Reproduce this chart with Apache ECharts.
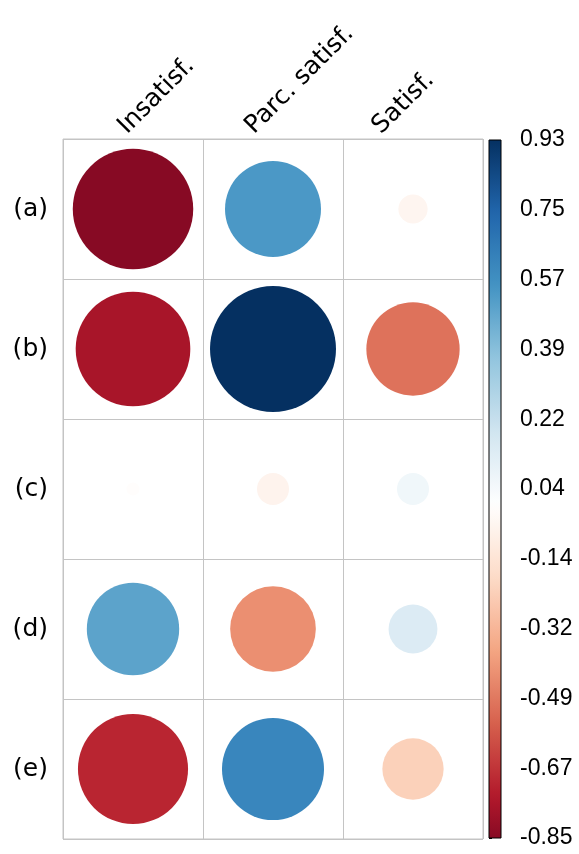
<!DOCTYPE html>
<html>
<head>
<meta charset="utf-8">
<script src="https://cdn.jsdelivr.net/npm/echarts@6/dist/echarts.min.js"></script>
<style>
  html, body { margin: 0; padding: 0; background: #ffffff; }
  #chart { width: 579px; height: 854px; }
</style>
</head>
<body>
<div id="chart"></div>
<script>
// Column and row names of the matrix
const columns = ['Insatisf.', 'Parc. satisf.', 'Satisf.'];
const rows = ['(a)', '(b)', '(c)', '(d)', '(e)'];

// Matrix values, one array per row
const rowA = [-0.85, 0.54, -0.05];
const rowB = [-0.77, 0.93, -0.51];
const rowC = [-0.01, -0.06, 0.06];
const rowD = [0.50, -0.43, 0.14];
const rowE = [-0.71, 0.61, -0.22];

// Colour-bar tick labels, bottom to top
const scaleTicks = ['-0.85', '-0.67', '-0.49', '-0.32', '-0.14', '0.04', '0.22', '0.39', '0.57', '0.75', '0.93'];

// Diverging red-white-blue palette
const palette = ['#67001F', '#B2182B', '#D6604D', '#F4A582', '#FDDBC7', '#FFFFFF',
                 '#D1E5F0', '#92C5DE', '#4393C3', '#2166AC', '#053061'];

const matrix = [rowA, rowB, rowC, rowD, rowE];
const cells = [];
matrix.forEach((vals, r) => vals.forEach((v, c) => cells.push([c, r, v])));

const allVals = matrix.flat();
const maxAbs = Math.max(...allVals.map(Math.abs));
const minVal = Math.min(...allVals);
const maxVal = Math.max(...allVals);

// Interpolate the palette on [-1, 1]
function hexToRgb(h) {
  return [parseInt(h.slice(1, 3), 16), parseInt(h.slice(3, 5), 16), parseInt(h.slice(5, 7), 16)];
}
function paletteColor(t) {
  t = Math.max(-1, Math.min(1, t));
  const pos = (t + 1) / 2 * (palette.length - 1);
  const i = Math.min(palette.length - 2, Math.floor(pos));
  const f = pos - i;
  const a = hexToRgb(palette[i]), b = hexToRgb(palette[i + 1]);
  const c = a.map((x, k) => Math.round(x + (b[k] - x) * f));
  return 'rgb(' + c.join(',') + ')';
}

// Gradient for the colour bar, top = max, bottom = min
const gradStops = [];
const N = 60;
for (let k = 0; k <= N; k++) {
  const v = maxVal - (maxVal - minVal) * k / N;
  gradStops.push({ offset: k / N, color: paletteColor(v / maxAbs) });
}

const FULL_DIAM = 126; // diameter of a circle at |value| == maxAbs
const gridColor = '#c4c4c4';

const chart = echarts.init(document.getElementById('chart'));
chart.setOption({
  backgroundColor: '#ffffff',
  animation: false,
  grid: [
    { left: 63, top: 139, width: 420, height: 700, show: true, borderColor: gridColor, borderWidth: 1 },
    { left: 59, top: 139, width: 381, height: 700 },
    { left: 489, top: 140, width: 12, height: 698 }
  ],
  xAxis: [
    {
      gridIndex: 0, type: 'category', data: columns, position: 'top',
      axisLine: { show: false }, axisTick: { show: false }, axisLabel: { show: false },
      splitLine: { show: true, lineStyle: { color: gridColor, width: 1 } }
    },
    {
      gridIndex: 1, type: 'category', data: columns, position: 'top',
      axisLine: { show: false }, axisTick: { show: false }, splitLine: { show: false },
      axisLabel: {
        rotate: 45, margin: 9, color: '#000000', fontSize: 25,
        fontFamily: 'DejaVu Sans', interval: 0
      }
    },
    { gridIndex: 2, type: 'value', min: 0, max: 1, show: false }
  ],
  yAxis: [
    {
      gridIndex: 0, type: 'category', data: rows, inverse: true,
      axisLine: { show: false }, axisTick: { show: false },
      axisLabel: { margin: 15, color: '#000000', fontSize: 25, fontFamily: 'DejaVu Sans' },
      splitLine: { show: true, lineStyle: { color: gridColor, width: 1 } }
    },
    { gridIndex: 1, type: 'value', show: false },
    {
      gridIndex: 2, type: 'value', min: 0, max: 10, interval: 1, position: 'right',
      axisLine: { show: false },
      axisTick: { show: true, length: 3, lineStyle: { color: '#000000', width: 1 } },
      splitLine: { show: false },
      axisLabel: {
        margin: 19, color: '#000000', fontSize: 23, fontFamily: 'Liberation Sans',
        formatter: (v) => scaleTicks[Math.round(v)]
      }
    }
  ],
  visualMap: {
    type: 'continuous', show: false, dimension: 2, seriesIndex: 0,
    min: -maxAbs, max: maxAbs, inRange: { color: palette }
  },
  series: [
    {
      type: 'scatter', xAxisIndex: 0, yAxisIndex: 0, data: cells,
      symbol: 'circle',
      symbolSize: (d) => FULL_DIAM * Math.sqrt(Math.abs(d[2]) / maxAbs),
      itemStyle: { opacity: 1 },
      emphasis: { disabled: true }
    },
    {
      type: 'custom', xAxisIndex: 2, yAxisIndex: 2, data: [[0]],
      renderItem: (params, api) => {
        const p0 = api.coord([0, 0]);
        const p1 = api.coord([1, 10]);
        return {
          type: 'rect',
          shape: { x: p0[0], y: p1[1], width: p1[0] - p0[0], height: p0[1] - p1[1] },
          style: {
            fill: new echarts.graphic.LinearGradient(0, 0, 0, 1, gradStops),
            stroke: '#000000', lineWidth: 1
          }
        };
      }
    }
  ]
});
</script>
</body>
</html>
